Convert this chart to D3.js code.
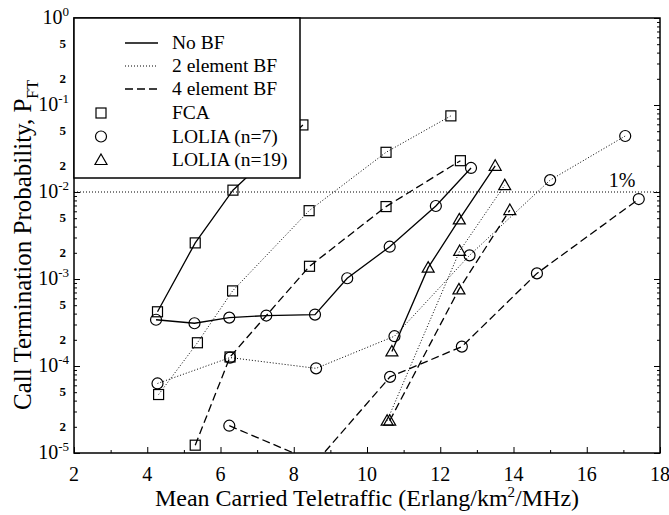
<!DOCTYPE html>
<html lang="en">
<head>
<meta charset="UTF-8">
<script src="https://d3js.org/d3.v7.min.js"></script>
<style>
body { margin: 0; background: white; }
svg { font-family: "Liberation Serif", "Times New Roman", serif; }
.axis path, .axis line { stroke: black; }
</style>
</head>
<body>
<div id="chart"></div>
<script>
// data: [traffic, termination probability]
var noBF_FCA    = [[4.28, 4.2e-4], [5.31, 2.6e-3], [6.34, 1.05e-2], [8.25, 5.9e-2]];
var noBF_L7     = [[4.24, 3.4e-4], [5.29, 3.1e-4], [6.24, 3.6e-4], [7.25, 3.8e-4], [8.58, 3.9e-4],
                   [9.46, 1.02e-3], [10.62, 2.35e-3], [11.88, 6.9e-3], [12.84, 1.89e-2]];
var noBF_L19    = [[10.68, 1.47e-4], [11.67, 1.35e-3], [12.52, 4.85e-3], [13.5, 2.0e-2]];
var bf2_FCA     = [[4.31, 4.7e-5], [5.37, 1.85e-4], [6.33, 7.3e-4], [8.42, 6.1e-3], [10.52, 2.86e-2], [12.29, 7.5e-2]];
var bf2_L7      = [[4.28, 6.3e-5], [6.26, 1.25e-4], [8.61, 9.4e-5], [10.75, 2.2e-4], [12.8, 1.87e-3], [15.0, 1.37e-2], [17.05, 4.4e-2]];
var bf2_L19     = [[10.55, 2.35e-5], [12.53, 2.1e-3], [13.76, 1.2e-2]];
var bf4_FCA     = [[5.31, 1.23e-5], [6.26, 1.27e-4], [8.43, 1.4e-3], [10.52, 6.8e-3], [12.55, 2.29e-2]];
var bf4_L7      = [[6.24, 2.06e-5], [8.6, 7.8e-6], [10.63, 7.5e-5], [12.59, 1.67e-4], [14.64, 1.16e-3], [17.42, 8.3e-3]];
var bf4_L19     = [[10.62, 2.35e-5], [12.51, 7.6e-4], [13.9, 6.2e-3]];

var xTicks = [2, 4, 6, 8, 10, 12, 14, 16, 18];
var yDecades = [1e-5, 1e-4, 1e-3, 1e-2, 1e-1, 1];
var yMinorLabels = [2, 5];
var legendLines = ["No BF", "2 element BF", "4 element BF"];
var legendMarks = ["FCA", "LOLIA (n=7)", "LOLIA (n=19)"];

var series = [
  {d: noBF_FCA, line: "solid", mark: "square"},
  {d: noBF_L7, line: "solid", mark: "circle"},
  {d: noBF_L19, line: "solid", mark: "triangle"},
  {d: bf2_FCA, line: "dotted", mark: "square"},
  {d: bf2_L7, line: "dotted", mark: "circle"},
  {d: bf2_L19, line: "dotted", mark: "triangle"},
  {d: bf4_FCA, line: "dashed", mark: "square"},
  {d: bf4_L7, line: "dashed", mark: "circle"},
  {d: bf4_L19, line: "dashed", mark: "triangle"}
];

var dashes = {solid: null, dotted: "1,2", dashed: "8,4"};
var widths = {solid: 1.3, dotted: 1, dashed: 1.3};

var W = 669, H = 515;
var pL = 74, pR = 660, pT = 18, pB = 453;

var x = d3.scaleLinear().domain([2, 18]).range([pL, pR]);
var y = d3.scaleLog().domain([1e-5, 1]).range([pB, pT]);

var svg = d3.select("#chart").append("svg")
    .attr("width", W).attr("height", H);

svg.append("clipPath").attr("id", "clip")
  .append("rect").attr("x", pL).attr("y", pT)
  .attr("width", pR - pL).attr("height", pB - pT);

// all tick values on log axis
var yAll = [];
for (var e = -5; e < 0; e++) {
  for (var m = 1; m < 10; m++) yAll.push(m * Math.pow(10, e));
}
yAll.push(1);
var yMinor = yAll.filter(function(v) { return yDecades.indexOf(v) < 0; });
var xMinor = d3.range(3, 18, 2);

// axes with inward ticks
function drawAxis(axis, tx, ty) {
  var g = svg.append("g").attr("class", "axis")
      .attr("transform", "translate(" + tx + "," + ty + ")")
      .call(axis);
  g.select(".domain").remove();
  g.selectAll("line").attr("stroke-width", 1);
  return g;
}
drawAxis(d3.axisBottom(x).tickValues(xTicks).tickSize(-6).tickFormat(""), 0, pB);
drawAxis(d3.axisBottom(x).tickValues(xMinor).tickSize(-3).tickFormat(""), 0, pB);
drawAxis(d3.axisLeft(y).tickValues(yDecades).tickSize(-6).tickFormat(""), pL, 0);
drawAxis(d3.axisLeft(y).tickValues(yMinor).tickSize(-3).tickFormat(""), pL, 0);
drawAxis(d3.axisRight(y).tickValues(yDecades).tickSize(-6).tickFormat(""), pR, 0);
drawAxis(d3.axisRight(y).tickValues(yMinor).tickSize(-3).tickFormat(""), pR, 0);

// frame
svg.append("rect").attr("x", pL).attr("y", pT)
  .attr("width", pR - pL).attr("height", pB - pT)
  .attr("fill", "none").attr("stroke", "black").attr("stroke-width", 1.5);

// x tick labels
svg.selectAll(".xlab").data(xTicks).enter().append("text")
  .attr("x", function(d) { return x(d); })
  .attr("y", pB + 28)
  .attr("text-anchor", "middle")
  .attr("font-size", 20)
  .text(function(d) { return d; });

// y tick labels
yDecades.forEach(function(v) {
  var ex = Math.round(Math.log10(v));
  var t = svg.append("text")
    .attr("x", pL - 5).attr("y", y(v) + 6)
    .attr("text-anchor", "end").attr("font-size", 20);
  t.append("tspan").text("10");
  t.append("tspan").attr("dy", -8).attr("font-size", 13).text(ex === 0 ? "0" : ex);
});
for (var e2 = -5; e2 < 0; e2++) {
  yMinorLabels.forEach(function(m) {
    svg.append("text")
      .attr("x", pL - 8).attr("y", y(m * Math.pow(10, e2)) + 4)
      .attr("text-anchor", "end").attr("font-size", 13).attr("font-weight", "bold")
      .text(m);
  });
}

// 1% reference line
svg.append("line")
  .attr("x1", pL).attr("x2", pR)
  .attr("y1", y(0.01)).attr("y2", y(0.01))
  .attr("stroke", "black").attr("stroke-width", 1).attr("stroke-dasharray", "1,2");
svg.append("text").attr("x", 622).attr("y", y(0.01) - 5)
  .attr("text-anchor", "middle").attr("font-size", 20).text("1%");

// series
var line = d3.line().x(function(d) { return x(d[0]); }).y(function(d) { return y(d[1]); });
var plot = svg.append("g").attr("clip-path", "url(#clip)");

function marker(g, kind, cx, cy) {
  if (kind === "square") {
    g.append("rect").attr("x", cx - 5).attr("y", cy - 5).attr("width", 10).attr("height", 10);
  } else if (kind === "circle") {
    g.append("circle").attr("cx", cx).attr("cy", cy).attr("r", 5.5);
  } else {
    g.append("path").attr("d", "M" + cx + "," + (cy - 6) + "L" + (cx + 6) + "," + (cy + 4.5) + "L" + (cx - 6) + "," + (cy + 4.5) + "Z");
  }
}

series.forEach(function(s) {
  plot.append("path").datum(s.d)
    .attr("d", line)
    .attr("fill", "none").attr("stroke", "black")
    .attr("stroke-width", widths[s.line])
    .attr("stroke-dasharray", dashes[s.line]);
  var mg = plot.append("g").attr("fill", "none").attr("stroke", "black").attr("stroke-width", 1.2);
  s.d.forEach(function(p) { marker(mg, s.mark, x(p[0]), y(p[1])); });
});

// legend
var lg = svg.append("g");
lg.append("rect").attr("x", pL).attr("y", pT).attr("width", 226).attr("height", 160)
  .attr("fill", "white").attr("stroke", "black").attr("stroke-width", 1.5);
legendLines.forEach(function(name, i) {
  var ly = 43 + i * 23;
  var kind = ["solid", "dotted", "dashed"][i];
  lg.append("line").attr("x1", 125).attr("x2", 158).attr("y1", ly).attr("y2", ly)
    .attr("stroke", "black").attr("stroke-width", widths[kind])
    .attr("stroke-dasharray", dashes[kind]);
  lg.append("text").attr("x", 172).attr("y", ly + 6).attr("font-size", 19.5).text(name);
});
legendMarks.forEach(function(name, i) {
  var ly = 113 + i * 23.5;
  var mg = lg.append("g").attr("fill", "none").attr("stroke", "black").attr("stroke-width", 1.2);
  marker(mg, ["square", "circle", "triangle"][i], 101, ly);
  lg.append("text").attr("x", 172).attr("y", ly + 6).attr("font-size", 19.5).text(name);
});

// axis titles
svg.append("text")
  .attr("x", x(10)).attr("y", 506)
  .attr("text-anchor", "middle").attr("font-size", 24)
  .html('Mean Carried Teletraffic (Erlang/km<tspan dy="-9" font-size="15">2</tspan><tspan dy="9">/MHz)</tspan>');

svg.append("text")
  .attr("transform", "translate(31," + 245 + ") rotate(-90)")
  .attr("text-anchor", "middle").attr("font-size", 25)
  .html('Call Termination Probability, P<tspan dy="7" font-size="16">FT</tspan>');
</script>
</body>
</html>
